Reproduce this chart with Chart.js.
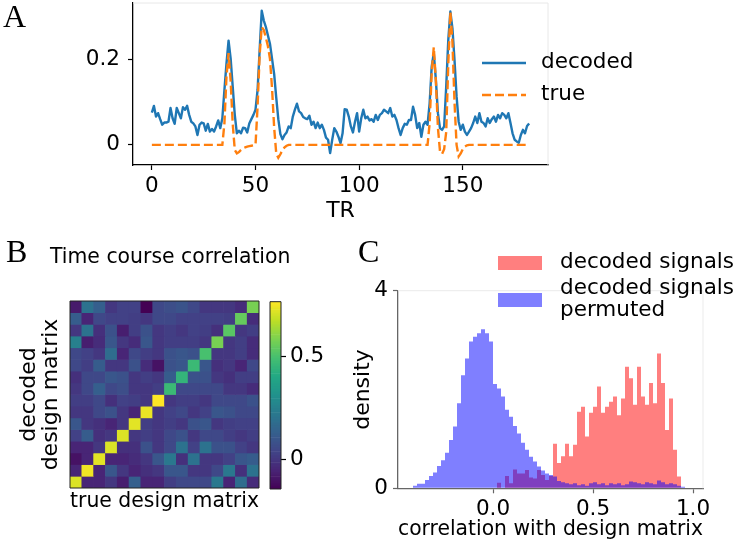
<!DOCTYPE html>
<html><head><meta charset="utf-8">
<script src="https://cdn.jsdelivr.net/npm/chart.js@4.4.1/dist/chart.umd.min.js"></script>
<style>
html,body{margin:0;padding:0;background:#fff;}
#wrap{position:relative;width:738px;height:545px;overflow:hidden;font-family:"DejaVu Sans",sans-serif;color:#000;}
.abs{position:absolute;}
canvas{position:absolute;display:block;}
.letter{position:absolute;font-family:"Liberation Serif",serif;font-size:32px;line-height:32px;}
.txt{position:absolute;font-size:21.5px;line-height:22px;white-space:nowrap;}
</style></head>
<body><div id="wrap">
<canvas id="cA" width="738" height="225" style="left:0;top:0"></canvas>
<canvas id="cB" width="265" height="280" style="left:0;top:240px"></canvas>
<canvas id="cBar" width="80" height="280" style="left:262px;top:240px"></canvas>
<canvas id="cC" width="398" height="305" style="left:340px;top:240px"></canvas>

<div class="letter" style="left:3px;top:0px">A</div>
<div class="letter" style="left:6px;top:235px">B</div>
<div class="letter" style="left:358px;top:235px">C</div>
<div class="txt" style="left:50px;top:245px;font-size:20.4px">Time course correlation</div>

<svg class="abs" style="left:470px;top:50px" width="70" height="60">
  <line x1="12" y1="13" x2="56" y2="13" stroke="#1f77b4" stroke-width="2.4"/>
  <line x1="12" y1="45" x2="56" y2="45" stroke="#ff7f0e" stroke-width="2.4" stroke-dasharray="9 4"/>
</svg>
<div class="txt" style="left:541px;top:50px">decoded</div>
<div class="txt" style="left:541px;top:82px">true</div>

<div class="abs" style="left:498px;top:256px;width:44px;height:14px;background:rgba(255,0,0,0.5)"></div>
<div class="abs" style="left:498px;top:293px;width:44px;height:14px;background:rgba(0,0,255,0.5)"></div>
<div class="txt" style="left:560px;top:250px">decoded signals</div>
<div class="txt" style="left:560px;top:276px">decoded signals<br>permuted</div>
</div>
<script>
// ---------- Panel A data ----------
const decodedSignal = [0.075,0.091,0.066,0.074,0.06,0.047,0.052,0.052,0.054,0.086,
0.062,0.049,0.086,0.074,0.062,0.088,0.082,0.091,0.07,0.054,
0.05,0.043,0.023,0.047,0.052,0.05,0.033,0.049,0.031,0.037,
0.031,0.043,0.057,0.039,0.062,0.128,0.19,0.243,0.202,0.136,
0.07,0.027,0.033,0.027,0.04,0.039,0.029,0.05,0.06,0.07,
0.082,0.128,0.222,0.313,0.29,0.275,0.255,0.235,0.2,0.165,
0.11,0.06,0.025,0.013,0.023,0.029,0.043,0.039,0.066,0.082,
0.096,0.078,0.074,0.065,0.062,0.06,0.068,0.047,0.054,0.039,
0.052,0.039,0.047,0.035,0.017,0.012,-0.019,0.012,0.039,0.031,
0.019,0.004,0.027,0.083,0.082,0.066,0.043,0.029,0.054,0.074,
0.031,0.062,0.082,0.062,0.066,0.057,0.06,0.054,0.07,0.058,
0.07,0.074,0.082,0.078,0.074,0.086,0.066,0.07,0.058,0.039,
0.023,0.039,0.049,0.047,0.058,0.058,0.089,0.07,0.039,0.051,
0.019,0.047,0.054,0.047,0.097,0.183,0.214,0.152,0.074,0.039,
0.035,0.043,0.136,0.245,0.311,0.272,0.198,0.113,0.054,0.035,
0.047,0.031,0.023,0.031,0.039,0.051,0.066,0.051,0.074,0.054,
0.051,0.043,0.062,0.051,0.06,0.066,0.054,0.07,0.062,0.074,
0.07,0.062,0.074,0.051,0.027,0.012,0.008,0.005,0.023,0.035,
0.027,0.044,0.05];
const trueSignal = [0,0,0,0,0,0,0,0,0,0,
0,0,0,0,0,0,0,0,0,0,
0,0,0,0,0,0,0,0,0,0,
0,0,0,0,0,0.05,0.16,0.214,0.15,0.05,
-0.012,-0.02,-0.017,-0.012,-0.008,-0.006,-0.004,-0.003,-0.002,-0.001,
0,0.09,0.21,0.275,0.268,0.25,0.23,0.2,0.13,0.04,
-0.02,-0.03,-0.022,-0.012,-0.006,-0.002,0,0,0,0,
0,0,0,0,0,0,0,0,0,0,
0,0,0,0,0,0,0,0,0,0,
0,0,0,0,0,0,0,0,0,0,
0,0,0,0,0,0,0,0,0,0,
0,0,0,0,0,0,0,0,0,0,
0,0,0,0,0,0,0,0,0,0,
0,0,0,0,0.05,0.17,0.228,0.15,0.04,-0.015,
-0.021,-0.01,0.03,0.19,0.31,0.24,0.1,0,-0.027,-0.02,
-0.01,-0.004,-0.001,0,0,0,0,0,0,0,
0,0,0,0,0,0,0,0,0,0,
0,0,0,0,0,0,0,0,0,0,
0,0,0];
const trIndex = decodedSignal.map((_, i) => i);
const trTicks = [0, 50, 100, 150];
const ampTicks = [0, 0.2];

// ---------- Panel B data (rows top to bottom) ----------
const corrMatrix = [
[-0.08,0.2,0.13,0.0,0.03,0.03,-0.145,0.05,0.07,0.09,0.05,0.0,0.0,0.0,-0.03,0.58],
[0.12,-0.05,0.05,0.03,0.03,0.02,0.0,0.05,0.05,0.03,0.03,0.03,0.03,0.02,0.55,-0.03],
[0.0,0.2,-0.02,0.08,-0.07,0.02,0.08,0.0,0.02,0.0,0.03,0.02,-0.02,0.53,0.0,0.02],
[0.25,-0.07,-0.03,0.1,0.0,-0.03,0.1,0.0,0.02,0.02,0.02,0.0,0.58,0.0,0.02,-0.03],
[0.05,0.03,0.0,0.18,-0.05,0.05,0.02,0.0,0.08,0.1,0.08,0.5,0.0,0.0,0.02,-0.03],
[0.05,0.02,0.12,0.0,0.0,0.08,-0.03,-0.1,0.08,0.1,0.47,0.1,-0.02,0.0,-0.05,0.05],
[-0.02,0.05,0.05,0.1,0.08,0.0,0.02,0.0,0.12,0.45,0.08,0.08,0.0,-0.02,0.02,0.02],
[0.0,0.05,0.13,0.05,0.07,0.0,0.0,0.02,0.47,0.05,0.05,0.05,0.05,0.0,0.0,-0.03],
[0.02,0.02,0.05,-0.02,0.03,0.02,0.0,0.768,0.0,0.02,0.02,0.0,0.05,0.05,0.05,0.08],
[0.0,0.0,0.05,0.08,0.0,-0.05,0.74,0.0,0.03,0.05,0.0,0.03,0.1,0.08,0.05,0.05],
[0.1,0.0,-0.02,-0.05,0.0,0.73,0.02,0.0,0.02,0.0,0.08,0.1,0.0,0.02,0.03,0.03],
[0.03,0.12,-0.02,0.0,0.72,0.0,0.02,0.0,0.05,0.08,0.0,0.05,0.05,0.02,0.0,0.02],
[-0.05,-0.05,0.0,0.72,-0.02,-0.02,0.08,0.0,0.05,0.2,0.03,0.2,0.08,0.08,0.03,0.0],
[-0.1,-0.05,0.73,-0.05,-0.05,-0.03,0.0,0.1,0.22,-0.02,0.2,0.0,0.0,0.03,0.1,0.12],
[-0.05,0.75,-0.05,0.1,0.0,-0.05,-0.02,0.0,0.1,0.1,0.0,0.0,0.05,0.22,-0.02,0.2],
[0.72,-0.05,-0.05,0.0,-0.07,0.13,-0.05,-0.05,0.02,0.05,0.05,0.05,0.22,-0.05,0.18,-0.03]
];
const matrixLabels = corrMatrix.map((_, i) => String(i + 1));
const colorbarMin = -0.145;
const colorbarMax = 0.768;
const colorbarTicks = [0, 0.5];

// ---------- Panel C data ----------
const binCenters = [-0.39,-0.37,-0.35,-0.33,-0.31,-0.29,-0.27,-0.25,-0.23,-0.21,-0.19,-0.17,-0.15,-0.13,-0.11,-0.09,-0.07,-0.05,-0.03,-0.01,
0.01,0.03,0.05,0.07,0.09,0.11,0.13,0.15,0.17,0.19,0.21,0.23,0.25,0.27,0.29,0.31,0.33,0.35,0.37,0.39,
0.41,0.43,0.45,0.47,0.49,0.51,0.53,0.55,0.57,0.59,0.61,0.63,0.65,0.67,0.69,0.71,0.73,0.75,0.77,0.79,
0.81,0.83,0.85,0.87,0.89,0.91,0.93,0.95];
const densityDecoded = [0,0,0,0,0,0,0,0,0,0,0,0,0,0,0,0,0,0,0,0,0,
0.11,0,0.25,0.1,0.38,0.3,0.3,0.37,0.22,0.2,0.37,0.27,0.17,0.25,
0.90,0.51,0.65,0.90,0.65,0.88,1.55,1.65,1.05,1.53,1.65,2.06,1.53,1.65,1.75,1.86,1.48,1.82,2.46,2.23,1.69,2.46,1.86,1.69,2.13,1.72,2.73,2.13,1.18,1.82,0.78,0.24,
0];
const densityPermuted = [0.05,0.09,0.09,0.17,0.25,0.32,0.45,0.57,0.72,0.98,1.25,1.72,2.29,2.63,2.97,3.07,3.14,3.22,3.14,2.97,
2.11,2.02,1.86,1.59,1.45,1.26,1.11,0.92,0.78,0.64,0.54,0.44,0.36,0.30,0.27,0.24,
0.15,0.12,0.1,0.08,0.1,0.06,0.08,0.05,0.1,0.12,0.08,0.1,0.06,0.1,0.08,0.1,0.06,0.08,0.14,0.12,0.1,0.08,0.12,0.1,0.08,0.16,0.12,0.08,0.1,0.08,0.05,0.03];
const corrTicks = [0, 0.5, 1.0];
const densityTicks = [0, 4];

// ---------- helpers ----------
Chart.defaults.font.family = "'DejaVu Sans', sans-serif";
Chart.defaults.color = '#000';
const F = {size: 21.5};
const FL = {size: 22};
const viridisStops = ['#440154','#482475','#414487','#355f8d','#2a788e','#21918c','#22a884','#44bf70','#7ad151','#bddf26','#fde725'];
function hex2rgb(h){return [parseInt(h.slice(1,3),16),parseInt(h.slice(3,5),16),parseInt(h.slice(5,7),16)];}
function viridis(t){
  t = Math.max(0, Math.min(1, t));
  const s = t * 10, i = Math.min(9, Math.floor(s)), f = s - i;
  const a = hex2rgb(viridisStops[i]), b = hex2rgb(viridisStops[i+1]);
  return 'rgb(' + a.map((v,k)=>Math.round(v + (b[k]-v)*f)).join(',') + ')';
}
const cnorm = v => (v - colorbarMin) / (colorbarMax - colorbarMin);
const framePlugin = {
  id: 'frame',
  afterDatasetsDraw(chart, args, o) {
    if (!o || !o.sides || !o.sides.length) return;
    const {ctx, chartArea: a} = chart;
    ctx.save();
    ctx.strokeStyle = o.color; ctx.lineWidth = o.width;
    ctx.beginPath();
    if (o.sides.includes('top')) { ctx.moveTo(a.left, a.top); ctx.lineTo(a.right, a.top); }
    if (o.sides.includes('right')) { ctx.moveTo(a.right, a.top); ctx.lineTo(a.right, a.bottom); }
    if (o.sides.includes('bottom')) { ctx.moveTo(a.left, a.bottom); ctx.lineTo(a.right, a.bottom); }
    if (o.sides.includes('left')) { ctx.moveTo(a.left, a.top); ctx.lineTo(a.left, a.bottom); }
    ctx.stroke(); ctx.restore();
  }
};
const fixTicks = vals => axis => { axis.ticks = vals.map(v => ({value: v})); };
const fitW = w => s => { s.width = w; s.paddingTop = 0; s.paddingBottom = 0; s.paddingLeft = 0; s.paddingRight = 0; };
const fitH = h => s => { s.height = h; s.paddingTop = 0; s.paddingBottom = 0; s.paddingLeft = 0; s.paddingRight = 0; };
const base = {responsive: false, animation: false, events: [], devicePixelRatio: 1};

// ---------- Panel A ----------
new Chart(document.getElementById('cA'), {
  type: 'line',
  plugins: [framePlugin],
  data: {labels: trIndex, datasets: [
    {label: 'decoded', data: decodedSignal, borderColor: '#1f77b4', borderWidth: 2.4, pointRadius: 0, tension: 0, borderJoinStyle: 'round', order: 1},
    {label: 'true', data: trueSignal, borderColor: '#ff7f0e', borderWidth: 2.4, borderDash: [9, 4], pointRadius: 0, tension: 0, order: 0}
  ]},
  options: {...base,
    layout: {padding: {left: 0, right: 190, top: 3, bottom: 0}},
    plugins: {legend: {display: false}, tooltip: {enabled: false}, frame: {sides: ['top','right'], color: '#e8e8e8', width: 1}},
    scales: {
      x: {type: 'linear', min: -9.1, max: 191.1, afterBuildTicks: fixTicks(trTicks),
          ticks: {font: F, color: '#000', padding: 4, maxRotation: 0, autoSkip: false},
          grid: {drawOnChartArea: false, tickLength: 5, tickColor: '#000', tickWidth: 1.2},
          border: {color: '#000', width: 1.3},
          title: {display: true, text: 'TR', font: FL, color: '#000', padding: {top: 0, bottom: 0.8}},
          afterFit: fitH(60)},
      y: {type: 'linear', min: -0.047, max: 0.331, afterBuildTicks: fixTicks(ampTicks),
          ticks: {font: F, color: '#000', padding: 8, callback: v => String(v)},
          grid: {drawOnChartArea: false, tickLength: 5, tickColor: '#000', tickWidth: 1.2},
          border: {color: '#000', width: 1.3},
          afterFit: fitW(133)}
    }
  }
});

// ---------- Panel B heatmap ----------
const nRows = corrMatrix.length;
new Chart(document.getElementById('cB'), {
  type: 'bar',
  plugins: [framePlugin],
  data: {labels: matrixLabels, datasets: corrMatrix.map((row, r) => ({
    data: row.map(() => [nRows - 1 - r, nRows - r]),
    backgroundColor: row.map(v => viridis(cnorm(v))),
    borderWidth: 0, grouped: false, barPercentage: 1, categoryPercentage: 1
  }))},
  options: {...base,
    layout: {padding: {left: 0, right: 6, top: 61, bottom: 0}},
    plugins: {legend: {display: false}, tooltip: {enabled: false}, frame: {sides: ['top','right','bottom','left'], color: '#222', width: 1}},
    scales: {
      x: {ticks: {display: false}, grid: {display: false}, border: {display: false},
          title: {display: true, text: 'true design matrix', font: FL, color: '#000', padding: {top: 0, bottom: 5.3}},
          afterFit: fitH(32)},
      y: {type: 'linear', min: 0, max: nRows, ticks: {display: false}, grid: {display: false}, border: {display: false},
          title: {display: true, text: ['decoded', 'design matrix'], font: {size: 22, lineHeight: '22px'}, color: '#000', padding: {top: 18.7, bottom: 0}},
          afterFit: fitW(70)}
    }
  }
});

// ---------- Panel B colorbar ----------
const cbStep = (colorbarMax - colorbarMin) / 120;
const cbSegments = [];
for (let k = 0; k < 120; k++) cbSegments.push([colorbarMin + k * cbStep, colorbarMin + (k + 1) * cbStep]);
new Chart(document.getElementById('cBar'), {
  type: 'bar',
  plugins: [framePlugin],
  data: {labels: ['cb'], datasets: [{
    data: cbSegments.map(s => ({x: 'cb', y: s})),
    backgroundColor: cbSegments.map(s => viridis(cnorm((s[0] + s[1]) / 2))),
    borderWidth: 0, barPercentage: 1, categoryPercentage: 1
  }]},
  options: {...base,
    layout: {padding: {left: 8, right: 0, top: 61.7, bottom: 31}},
    plugins: {legend: {display: false}, tooltip: {enabled: false}, frame: {sides: ['top','right','bottom','left'], color: '#222', width: 1}},
    scales: {
      x: {display: false},
      y: {type: 'linear', position: 'right', min: colorbarMin, max: colorbarMax, afterBuildTicks: fixTicks(colorbarTicks),
          ticks: {font: F, color: '#000', padding: 4, callback: v => String(v)},
          grid: {drawOnChartArea: false, tickLength: 5, tickColor: '#000', tickWidth: 1.2},
          border: {display: false},
          afterFit: fitW(61)}
    }
  }
});

// ---------- Panel C ----------
new Chart(document.getElementById('cC'), {
  type: 'bar',
  plugins: [framePlugin],
  data: {datasets: [
    {label: 'decoded signals permuted', data: binCenters.map((x, i) => ({x, y: densityPermuted[i]})),
     backgroundColor: 'rgba(0,0,255,0.5)', borderWidth: 0, inflateAmount: 0, grouped: false, barPercentage: 1, categoryPercentage: 1, order: 0},
    {label: 'decoded signals', data: binCenters.map((x, i) => ({x, y: densityDecoded[i]})),
     backgroundColor: 'rgba(255,0,0,0.5)', borderWidth: 0, inflateAmount: 0, grouped: false, barPercentage: 1, categoryPercentage: 1, order: 1}
  ]},
  options: {...base,
    layout: {padding: {left: 0, right: 35, top: 50.7, bottom: 0}},
    plugins: {legend: {display: false}, tooltip: {enabled: false}, frame: {sides: ['top','right'], color: '#ebebeb', width: 1}},
    scales: {
      x: {type: 'linear', offset: false, min: -0.475, max: 1.05, afterBuildTicks: fixTicks(corrTicks),
          ticks: {font: F, color: '#000', padding: 3.5, maxRotation: 0, autoSkip: false, callback: v => v.toFixed(1)},
          grid: {offset: false, drawOnChartArea: false, tickLength: 5, tickColor: '#666', tickWidth: 1.2},
          border: {color: '#666', width: 1.3},
          title: {display: true, text: 'correlation with design matrix', font: FL, color: '#000', padding: {top: 0, bottom: 2.3}},
          afterFit: fitH(56.7)},
      y: {type: 'linear', min: 0, max: 4, afterBuildTicks: fixTicks(densityTicks),
          ticks: {font: F, color: '#000', padding: 5, callback: v => String(v)},
          grid: {drawOnChartArea: false, tickLength: 5, tickColor: '#666', tickWidth: 1.2},
          border: {color: '#666', width: 1.3},
          title: {display: true, text: 'density', font: FL, color: '#000', padding: {top: 10.3, bottom: 0}},
          afterFit: fitW(58)}
    }
  }
});
</script>
</body></html>
